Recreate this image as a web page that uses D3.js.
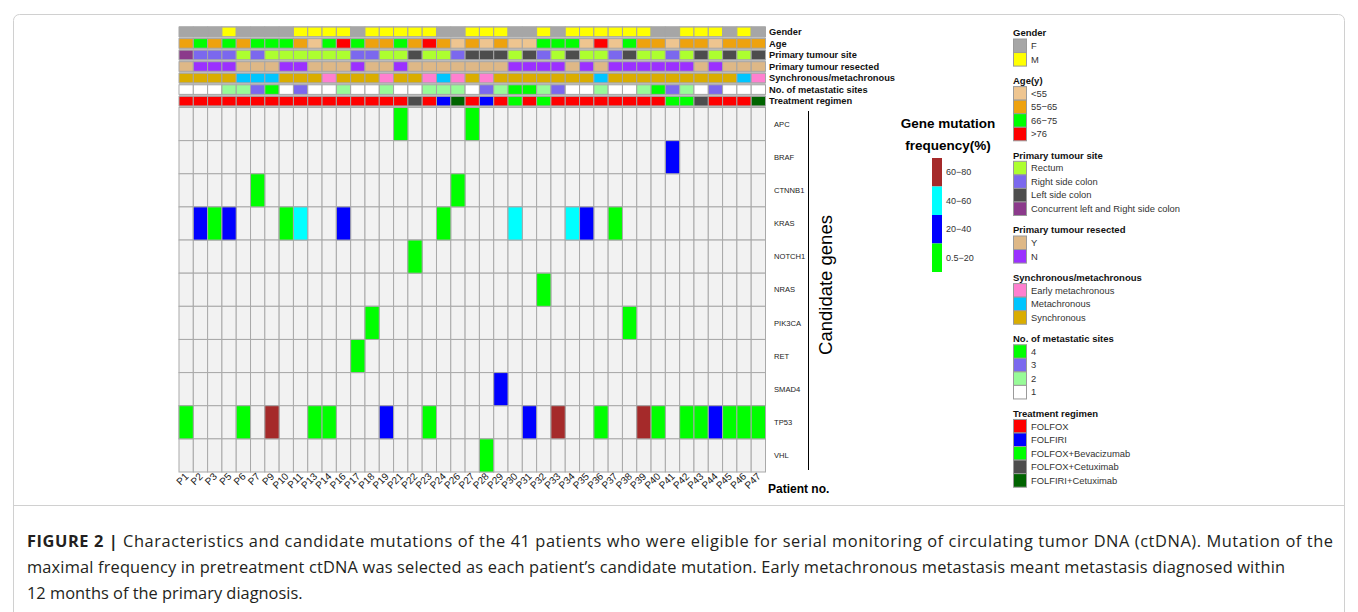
<!DOCTYPE html>
<html>
<head>
<meta charset="utf-8">
<script src="https://cdn.jsdelivr.net/npm/d3@7"></script>
<style>
  body { margin: 0; background: #ffffff; }
  svg { display: block; }
</style>
</head>
<body>
<script>
// ---- data ----
var patients = ["P1","P2","P3","P5","P6","P7","P9","P10","P11","P13","P14","P16","P17","P18","P19","P21","P22","P23","P24","P26","P27",
                "P28","P29","P30","P31","P32","P33","P34","P35","P36","P37","P38","P39","P40","P41","P42","P43","P44","P45","P46","P47"];

var genes = ["APC","BRAF","CTNNB1","KRAS","NOTCH1","NRAS","PIK3CA","RET","SMAD4","TP53","VHL"];

var gender = ["F","F","F","M","F","F","F","F","M","M","M","M","F","M","M","M","M","M","F","F","M",
              "M","M","F","F","M","F","M","M","M","M","M","M","F","F","M","M","M","F","M","F"];

var age = ["55-65","66-75","55-65","66-75","55-65","66-75","66-75","66-75","55-65","<55","66-75",">76","66-75","55-65","55-65","66-75","55-65",">76","55-65","<55","55-65",
           "<55","55-65","<55","<55","66-75","66-75","66-75","<55",">76","<55","66-75","55-65","55-65","<55","55-65","55-65","<55","55-65","55-65","55-65"];

var site = ["Concurrent","Right","Right","Right","Rectum","Right","Rectum","Rectum","Rectum","Rectum","Rectum","Rectum","Right","Right","Rectum","Rectum","Left","Rectum","Rectum","Right","Left",
            "Left","Left","Rectum","Left","Right","Rectum","Left","Rectum","Rectum","Right","Left","Rectum","Rectum","Right","Rectum","Left","Rectum","Left","Rectum","Left"];

var resected = ["Y","N","N","N","Y","Y","Y","N","N","Y","Y","Y","N","Y","Y","N","Y","Y","Y","Y","Y",
                "Y","Y","N","N","N","N","Y","N","Y","N","N","N","N","N","N","Y","N","Y","Y","Y"];

var syncMeta = ["Sync","Sync","Sync","Sync","Meta","Meta","Meta","Sync","Sync","Sync","Early","Sync","Sync","Sync","Early","Sync","Sync","Early","Meta","Early","Sync",
                "Early","Sync","Sync","Sync","Sync","Sync","Sync","Sync","Meta","Sync","Sync","Sync","Sync","Sync","Sync","Sync","Sync","Sync","Meta","Early"];

var metSites = ["1","1","1","2","2","3","4","1","3","1","1","2","1","1","2","1","1","2","2","2","1",
                "3","2","4","4","2","3","1","1","2","1","1","2","4","3","2","1","3","1","1","1"];

var regimen = ["FOLFOX","FOLFOX","FOLFOX","FOLFOX","FOLFOX","FOLFOX","FOLFOX","FOLFOX","FOLFOX","FOLFOX","FOLFOX","FOLFOX","FOLFOX","FOLFOX","FOLFOX","FOLFOX","FOLFOX+Cetuximab","FOLFOX","FOLFIRI","FOLFIRI+Cetuximab","FOLFOX",
               "FOLFIRI","FOLFOX","FOLFOX+Bevacizumab","FOLFOX","FOLFOX+Bevacizumab","FOLFOX","FOLFOX","FOLFOX","FOLFOX","FOLFOX","FOLFOX","FOLFOX","FOLFOX","FOLFOX+Bevacizumab","FOLFOX+Bevacizumab","FOLFOX+Cetuximab","FOLFOX","FOLFOX","FOLFOX","FOLFIRI+Cetuximab"];

// [gene, patient, frequency band]
var mutations = [
  ["APC","P21","0.5-20"],["APC","P27","0.5-20"],
  ["BRAF","P41","20-40"],
  ["CTNNB1","P7","0.5-20"],["CTNNB1","P26","0.5-20"],
  ["KRAS","P2","20-40"],["KRAS","P3","0.5-20"],["KRAS","P5","20-40"],["KRAS","P10","0.5-20"],["KRAS","P11","40-60"],
  ["KRAS","P16","20-40"],["KRAS","P24","0.5-20"],["KRAS","P30","40-60"],["KRAS","P34","40-60"],["KRAS","P35","20-40"],["KRAS","P37","0.5-20"],
  ["NOTCH1","P22","0.5-20"],
  ["NRAS","P32","0.5-20"],
  ["PIK3CA","P18","0.5-20"],["PIK3CA","P38","0.5-20"],
  ["RET","P17","0.5-20"],
  ["SMAD4","P29","20-40"],
  ["TP53","P1","0.5-20"],["TP53","P6","0.5-20"],["TP53","P9","60-80"],["TP53","P13","0.5-20"],["TP53","P14","0.5-20"],["TP53","P19","20-40"],
  ["TP53","P23","0.5-20"],["TP53","P31","20-40"],["TP53","P33","60-80"],["TP53","P36","0.5-20"],["TP53","P39","60-80"],["TP53","P40","0.5-20"],
  ["TP53","P42","0.5-20"],["TP53","P43","0.5-20"],["TP53","P44","20-40"],["TP53","P45","0.5-20"],["TP53","P46","0.5-20"],["TP53","P47","0.5-20"],
  ["VHL","P28","0.5-20"]
];

var freqBands = ["60-80","40-60","20-40","0.5-20"];
var freqLabels = ["60\u221280","40\u221260","20\u221240","0.5\u221220"];
var freqColours = ["#A52A2A","#00FFFF","#0000FF","#00FF00"];

// annotation tracks: name, values, legend title, keys, labels, colours
var tracks = [
  { name: "Gender", values: gender, title: "Gender",
    keys: ["F","M"], labels: ["F","M"], colours: ["#A6A6A6","#FFFF00"] },
  { name: "Age", values: age, title: "Age(y)",
    keys: ["<55","55-65","66-75",">76"], labels: ["<55","55\u221265","66\u221275",">76"],
    colours: ["#EEC590","#EEA20E","#00FF00","#FF0000"] },
  { name: "Primary tumour site", values: site, title: "Primary tumour site",
    keys: ["Rectum","Right","Left","Concurrent"],
    labels: ["Rectum","Right side colon","Left side colon","Concurrent left and Right side colon"],
    colours: ["#ADFF2F","#7B68EE","#4D4D4D","#8B3A8B"] },
  { name: "Primary tumour resected", values: resected, title: "Primary tumour resected",
    keys: ["Y","N"], labels: ["Y","N"], colours: ["#DEB887","#9B30FF"] },
  { name: "Synchronous/metachronous", values: syncMeta, title: "Synchronous/metachronous",
    keys: ["Early","Meta","Sync"], labels: ["Early  metachronous","Metachronous","Synchronous"],
    colours: ["#FF80D0","#00C5FF","#DAAD00"] },
  { name: "No. of metastatic sites", values: metSites, title: "No. of metastatic sites",
    keys: ["4","3","2","1"], labels: ["4","3","2","1"], colours: ["#00FF00","#7B68EE","#98FB98","#FFFFFF"] },
  { name: "Treatment regimen", values: regimen, title: "Treatment regimen",
    keys: ["FOLFOX","FOLFIRI","FOLFOX+Bevacizumab","FOLFOX+Cetuximab","FOLFIRI+Cetuximab"],
    labels: ["FOLFOX","FOLFIRI","FOLFOX+Bevacizumab","FOLFOX+Cetuximab","FOLFIRI+Cetuximab"],
    colours: ["#FF0000","#0000FF","#00FF00","#4D4D4D","#006400"] }
];

var captionLines = [
  "Characteristics and candidate mutations of the 41 patients who were eligible for serial monitoring of circulating tumor DNA (ctDNA). Mutation of the",
  "maximal frequency in pretreatment ctDNA was selected as each patient\u2019s candidate mutation. Early metachronous metastasis meant metastasis diagnosed within",
  "12 months of the primary diagnosis."
];

// ---- drawing ----
var width = 1358, height = 612;
var FONT = "'Liberation Sans', Arial, sans-serif";

var svg = d3.select("body").append("svg")
  .attr("width", width).attr("height", height)
  .style("font-family", FONT);

// figure frame
svg.append("rect")
  .attr("x", 13.5).attr("y", 14.5).attr("width", 1331).attr("height", 640)
  .attr("rx", 6).attr("fill", "none").attr("stroke", "#d0d0d0");
svg.append("line")
  .attr("x1", 13.5).attr("x2", 1344.5).attr("y1", 505.5).attr("y2", 505.5)
  .attr("stroke", "#d0d0d0");

var x = d3.scaleBand().domain(patients).range([179, 765.5]);
var yAnn = d3.scaleBand().domain(tracks.map(function(t) { return t.name; }))
  .range([26.5, 106.5]).paddingInner(0.17).paddingOuter(0.05);
var yGene = d3.scaleBand().domain(genes).range([107.5, 472]);
var freqColour = d3.scaleOrdinal().domain(freqBands).range(freqColours);

// annotation tracks
svg.append("rect")
  .attr("x", x.range()[0]).attr("y", 26)
  .attr("width", x.range()[1] - x.range()[0]).attr("height", 82)
  .attr("fill", "#c4c4c4");

var ann = svg.append("g").attr("class", "annotations");
tracks.forEach(function(t) {
  var col = d3.scaleOrdinal().domain(t.keys).range(t.colours);
  ann.append("g").selectAll("rect")
    .data(t.values)
    .enter().append("rect")
      .attr("x", function(d, i) { return x(patients[i]); })
      .attr("y", yAnn(t.name))
      .attr("width", x.bandwidth())
      .attr("height", yAnn.bandwidth())
      .attr("fill", function(d) { return col(d); })
      .attr("stroke", "#a6a6a6")
      .attr("stroke-width", 1);

  ann.append("text")
    .attr("x", 769)
    .attr("y", yAnn(t.name) + yAnn.bandwidth() / 2)
    .attr("dy", "0.35em")
    .attr("font-size", "9.3px")
    .attr("font-weight", "bold")
    .attr("fill", "#111")
    .text(t.name);
});

// heatmap background grid
var grid = [];
genes.forEach(function(g) {
  patients.forEach(function(p) { grid.push({ gene: g, patient: p }); });
});

var heat = svg.append("g").attr("class", "heatmap");
heat.selectAll("rect.bg")
  .data(grid)
  .enter().append("rect")
    .attr("class", "bg")
    .attr("x", function(d) { return x(d.patient); })
    .attr("y", function(d) { return yGene(d.gene); })
    .attr("width", x.bandwidth())
    .attr("height", yGene.bandwidth())
    .attr("fill", "#F2F2F2")
    .attr("stroke", "#a9a9a9")
    .attr("stroke-width", 1);

heat.selectAll("rect.mut")
  .data(mutations)
  .enter().append("rect")
    .attr("class", "mut")
    .attr("x", function(d) { return x(d[1]); })
    .attr("y", function(d) { return yGene(d[0]); })
    .attr("width", x.bandwidth())
    .attr("height", yGene.bandwidth())
    .attr("fill", function(d) { return freqColour(d[2]); })
    .attr("stroke", "#a9a9a9")
    .attr("stroke-width", 1);

// gene names
svg.append("g").selectAll("text")
  .data(genes)
  .enter().append("text")
    .attr("x", 774)
    .attr("y", function(d) { return yGene(d) + yGene.bandwidth() / 2; })
    .attr("dy", "0.35em")
    .attr("font-size", "7.6px")
    .attr("fill", "#222")
    .text(function(d) { return d; });

svg.append("line")
  .attr("x1", 808.5).attr("x2", 808.5).attr("y1", 111).attr("y2", 470)
  .attr("stroke", "#000").attr("stroke-width", 1);

svg.append("text")
  .attr("transform", "translate(832,285) rotate(-90)")
  .attr("text-anchor", "middle")
  .attr("font-size", "18.5px")
  .attr("fill", "#000")
  .text("Candidate genes");

// patient labels
svg.append("g").selectAll("text")
  .data(patients)
  .enter().append("text")
    .attr("transform", function(d) {
      return "translate(" + (x(d) + x.bandwidth() / 2 + 3) + ",477) rotate(-45)";
    })
    .attr("text-anchor", "end")
    .attr("font-size", "10px")
    .attr("fill", "#222")
    .text(function(d) { return d; });

svg.append("text")
  .attr("x", 768).attr("y", 493)
  .attr("font-size", "12px").attr("font-weight", "bold")
  .attr("fill", "#000")
  .text("Patient no.");

// gene mutation frequency legend
var fl = svg.append("g").attr("class", "freq-legend");
fl.append("text")
  .attr("x", 948).attr("y", 128)
  .attr("text-anchor", "middle")
  .attr("font-size", "13.5px").attr("font-weight", "bold")
  .text("Gene mutation");
fl.append("text")
  .attr("x", 948).attr("y", 150)
  .attr("text-anchor", "middle")
  .attr("font-size", "13.5px").attr("font-weight", "bold")
  .text("frequency(%)");

var yFreq = d3.scaleBand().domain(freqBands).range([158, 272]);
fl.selectAll("rect")
  .data(freqBands)
  .enter().append("rect")
    .attr("x", 932).attr("y", function(d) { return yFreq(d); })
    .attr("width", 10).attr("height", yFreq.bandwidth())
    .attr("fill", function(d) { return freqColour(d); });
fl.selectAll("text.lab")
  .data(freqBands)
  .enter().append("text")
    .attr("class", "lab")
    .attr("x", 946)
    .attr("y", function(d) { return yFreq(d) + yFreq.bandwidth() / 2; })
    .attr("dy", "0.35em")
    .attr("font-size", "9px")
    .attr("fill", "#333")
    .text(function(d, i) { return freqLabels[i]; });

// annotation legends
var lg = svg.append("g").attr("class", "legend");
var ly = 33, sw = 13.55;
tracks.forEach(function(t) {
  lg.append("text")
    .attr("x", 1013).attr("y", ly)
    .attr("dy", "0.35em")
    .attr("font-size", "9.5px").attr("font-weight", "bold")
    .attr("fill", "#111")
    .text(t.title);
  var top = ly + 6;
  var g = lg.append("g");
  g.selectAll("rect")
    .data(t.keys)
    .enter().append("rect")
      .attr("x", 1013.5)
      .attr("y", function(d, i) { return top + i * sw; })
      .attr("width", 13).attr("height", sw)
      .attr("fill", function(d, i) { return t.colours[i]; })
      .attr("stroke", "#9a9a9a");
  g.selectAll("text")
    .data(t.labels)
    .enter().append("text")
      .attr("x", 1031)
      .attr("y", function(d, i) { return top + i * sw + sw / 2; })
      .attr("dy", "0.35em")
      .attr("font-size", "9.4px")
      .attr("fill", "#333")
      .text(function(d) { return d; });
  ly = top + t.keys.length * sw + 14.5;
});

// caption
var cap = svg.append("g")
  .style("font-family", "'Open Sans', 'Noto Sans', sans-serif")
  .attr("font-size", "16.4px")
  .attr("fill", "#231f20");

var l1 = cap.append("text").attr("x", 27).attr("y", 547)
  .attr("textLength", 1306).attr("lengthAdjust", "spacing");
l1.append("tspan").attr("font-weight", "bold").text("FIGURE 2 | ");
l1.append("tspan").text(captionLines[0]);

cap.append("text").attr("x", 27).attr("y", 573)
  .attr("textLength", 1258).attr("lengthAdjust", "spacing")
  .text(captionLines[1]);
cap.append("text").attr("x", 27).attr("y", 599)
  .text(captionLines[2]);
</script>
</body>
</html>
